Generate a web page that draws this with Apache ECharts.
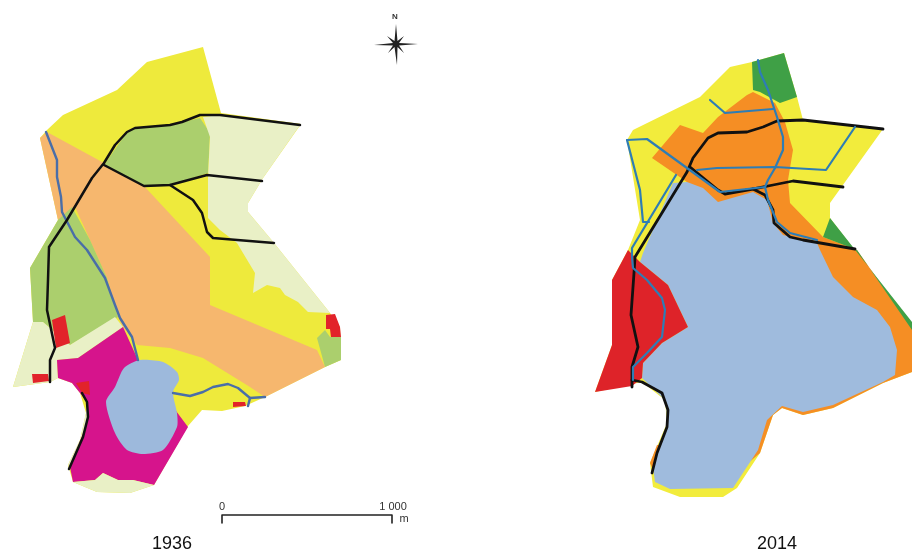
<!DOCTYPE html>
<html><head><meta charset="utf-8">
<style>html,body{margin:0;padding:0;background:#fff}#c{width:912px;height:551px}</style>
<script src="https://cdn.jsdelivr.net/npm/echarts@6/dist/echarts.min.js"></script>
</head><body><div id="c"></div>
<script>
// ---------- 1936 land-use patches ----------
const outline36=[[47,130],[63,115],[117,90],[147,62],[203,47],[221,113],[301,124],[263,178],[248,203],[248,212],[274,243],[310,288],[330,313],[340,327],[341,360],[325,367],[265,397],[245,406],[222,411],[202,410],[188,426],[154,485],[130,493],[97,492],[73,482],[68,465],[80,440],[86,413],[80,393],[72,383],[58,378],[50,382],[13,387],[33,322],[30,268],[58,220],[40,138]];
const orange36=[[40,138],[47,132],[104,163],[144,186],[210,257],[210,305],[317,350],[325,367],[265,397],[250,387],[203,358],[170,348],[137,345],[123,327],[118,317],[107,278],[90,240],[75,207],[58,220]];
const green36W=[[58,220],[72,207],[90,240],[107,278],[118,317],[70,345],[43,322],[33,322],[30,268]];
const creamSW=[[33,322],[43,322],[70,345],[115,317],[123,327],[78,358],[57,360],[58,378],[50,382],[13,387]];
const magenta36=[[123,327],[138,360],[188,427],[154,485],[133,480],[118,480],[103,473],[95,480],[73,482],[70,467],[88,420],[87,402],[80,393],[72,383],[58,378],[57,360],[78,358]];
const creamS=[[73,482],[95,480],[103,473],[118,480],[133,480],[154,485],[130,493],[97,492]];
const creamSliver=[[68,465],[80,440],[86,413],[87,402],[88,420],[70,467]];
const green36N=[[104,165],[127,132],[135,128],[170,125],[200,118],[210,133],[208,173],[170,185],[144,186]];
const creamE=[[203,117],[220,115],[300,125],[263,178],[248,203],[248,212],[274,243],[310,288],[330,313],[308,312],[298,302],[285,295],[280,288],[267,285],[253,293],[255,273],[237,243],[220,230],[208,218],[208,177],[210,137]];
const green36E=[[317,338],[325,330],[330,337],[341,337],[341,360],[325,367]];
const lake36=[[140,360],[163,362],[177,372],[179,380],[173,392],[177,413],[177,427],[163,450],[143,454],[127,450],[115,433],[106,402],[115,387],[124,368]];
const red36A=[[326,315],[335,314],[340,327],[341,337],[331,337],[330,329],[326,329]];
const red36B=[[52,320],[65,315],[70,343],[56,348]];
const red36C=[[32,374],[48,374],[49,381],[33,383]];
const red36D=[[76,383],[89,381],[90,395],[82,393]];
const red36E=[[233,402],[245,402],[246,406],[233,407]];
// ---------- 1936 roads and streams ----------
const road36A=[[50,382],[50,360],[55,348],[47,310],[48,280],[49,247],[67,220],[92,178],[104,163],[115,145],[127,132],[135,128],[170,125],[182,122],[200,115],[220,115],[300,125]];
const road36B=[[104,165],[144,186],[170,185],[207,175],[262,181]];
const road36C=[[170,185],[193,200],[202,213],[207,232],[213,238],[274,243]];
const road36D=[[82,393],[87,402],[88,417],[83,437],[69,469]];
const river36A=[[46,132],[57,160],[57,177],[61,197],[62,212],[75,237],[87,250],[105,278],[115,305],[120,318],[132,337],[138,360]];
const river36B=[[173,393],[190,396],[203,392],[213,387],[228,384],[238,388],[250,398],[265,397]];
const river36C=[[250,398],[248,406]];
// ---------- 2014 land-use patches ----------
const outline14=[[627,140],[633,130],[700,97],[730,67],[752,62],[784,53],[797,97],[803,120],[883,129],[830,203],[830,218],[870,270],[912,327],[912,372],[883,383],[833,408],[803,415],[782,408],[773,415],[760,453],[737,488],[723,497],[680,497],[653,487],[650,463],[667,423],[665,400],[642,382],[595,392],[612,345],[612,280],[628,250],[640,220]];
const orange14=[[652,158],[680,125],[703,133],[718,117],[747,95],[753,92],[775,103],[785,122],[793,150],[788,180],[790,203],[823,237],[857,250],[912,328],[912,372],[883,383],[833,408],[803,415],[782,408],[773,415],[760,453],[740,470],[700,300],[687,182]];
const orange14W=[[650,463],[657,445],[660,445],[653,470]];
const lake14=[[687,182],[703,188],[718,202],[753,192],[767,200],[773,223],[783,235],[817,243],[820,250],[833,277],[853,297],[877,310],[890,327],[897,350],[895,375],[883,382],[833,405],[803,412],[782,406],[767,420],[758,450],[733,488],[670,489],[655,482],[653,467],[668,423],[665,400],[642,378],[643,363],[662,343],[688,327],[668,285],[640,262],[643,253],[673,183]];
const red14=[[628,250],[640,262],[668,285],[688,327],[662,343],[643,363],[642,378],[632,386],[595,392],[612,345],[612,280]];
const green14N=[[752,62],[784,53],[797,97],[780,103],[760,92],[753,90]];
const green14E=[[830,218],[912,322],[912,330],[857,250],[823,237]];
// ---------- 2014 roads and streams ----------
const road14A=[[632,387],[632,367],[638,347],[631,315],[634,273],[635,257],[687,172],[693,158],[708,138],[718,133],[747,132],[763,127],[777,121],[803,120],[883,129]];
const road14B=[[690,167],[718,190],[725,194],[753,189],[773,185],[793,181],[843,187]];
const road14C=[[753,189],[765,195],[773,210],[774,223],[790,237],[803,240],[855,249]];
const road14D=[[632,380],[642,382],[662,393],[668,410],[667,427],[657,453],[652,473]];
const river14A=[[758,60],[760,72],[768,90],[777,117],[783,137],[783,150],[775,168],[768,180],[765,187],[768,200],[777,222],[790,233],[817,240]];
const river14B=[[710,100],[725,113],[773,109]];
const river14C=[[627,140],[647,139],[720,192],[765,187]];
const river14D=[[627,140],[640,190],[643,222],[649,222]];
const river14E=[[697,170],[717,168],[775,167],[826,170],[855,127]];
const river14F=[[676,175],[632,248],[632,257],[633,268],[647,280],[662,298],[665,310],[662,337],[647,353],[633,367],[633,380]];
// ---------- furniture ----------
const compassStar=[[396,24],[397.5,41],[404,36],[399,43],[418,44],[399,45.5],[404,53],[397.5,47],[397,65],[394.5,47],[388,53],[393,45.5],[374,45],[393,43],[387,36],[394.5,41]];
const scaleBar=[[222,523],[222,515],[392,515],[392,523]];
const labels=[
 ["N",395,17,8,"bold"],["0",222,507,11,"normal"],["1 000",393,507,11,"normal"],["m",404,519,11,"normal"],
 ["1936",172,544,18,"normal"],["2014",777,544,18,"normal"]];

const patches=[
 [outline36,'#EEEA3C',0],[orange36,'#F6B76E',0],[green36W,'#ABCF6D',0],[creamSW,'#E9F0C6',0],[magenta36,'#D6148C',0],
 [creamS,'#E9F0C6',0],[creamSliver,'#E9F0C6',0],[green36N,'#ABCF6D',0],[creamE,'#E9F0C6',0],[green36E,'#ABCF6D',0],
 [lake36,'#9DB9DC',0.25],[red36A,'#E2232A',0],[red36B,'#E2232A',0],[red36C,'#E2232A',0],[red36D,'#E2232A',0],[red36E,'#E2232A',0],
 [outline14,'#F2EC3C',0],[orange14,'#F58E24',0],[orange14W,'#F58E24',0],[green14N,'#3FA046',0],[green14E,'#3FA046',0],
 [lake14,'#9FBBDD',0],[red14,'#DE2329',0],[compassStar,'#222222',0]];
const strokes=[
 [river36A,'#4A6EA8',2.4],[river36B,'#4A6EA8',2.4],[river36C,'#4A6EA8',2.4],
 [road36A,'#111111',2.5],[road36B,'#111111',2.5],[road36C,'#111111',2.5],[road36D,'#111111',2.5],
 [road14A,'#111111',2.8],[road14B,'#111111',2.8],[road14C,'#111111',2.8],[road14D,'#111111',2.8],
 [river14A,'#2E7DB5',2.2],[river14B,'#2E7DB5',2.2],[river14C,'#2E7DB5',2.2],[river14D,'#2E7DB5',2.2],[river14E,'#2E7DB5',2.2],[river14F,'#2E7DB5',2.2],
 [scaleBar,'#222222',1.6]];

const series=[];
patches.forEach(([pts,col,sm])=>series.push({type:'custom',silent:true,coordinateSystem:'cartesian2d',data:[0],clip:false,
  renderItem:(p,api)=>({type:'polygon',shape:{points:pts.map(q=>api.coord(q)),smooth:sm},style:{fill:col}})}));
strokes.forEach(([pts,col,w])=>series.push({type:'line',silent:true,data:pts,showSymbol:false,symbol:'none',smooth:false,
  lineStyle:{color:col,width:w,join:'round',cap:'round'},z:3,animation:false}));
series.push({type:'custom',silent:true,data:labels.map(l=>[l[1],l[2],l[0],l[3],l[4]]),z:4,
  renderItem:(p,api)=>{const l=labels[p.dataIndex],c=api.coord([l[1],l[2]]);
    return {type:'text',x:c[0],y:c[1],style:{text:l[0],fontFamily:'"Liberation Sans",Arial,sans-serif',fontSize:l[3],fontWeight:l[4],fill:l[3]>12?'#111':'#333',align:'center',verticalAlign:'middle'}};}});

const chart=echarts.init(document.getElementById('c'),null,{renderer:'canvas'});
chart.setOption({animation:false,backgroundColor:'#ffffff',
 grid:{left:0,right:0,top:0,bottom:0},
 xAxis:{type:'value',min:0,max:912,show:false},
 yAxis:{type:'value',min:0,max:551,inverse:true,show:false},
 tooltip:{show:false},series});
</script></body></html>
